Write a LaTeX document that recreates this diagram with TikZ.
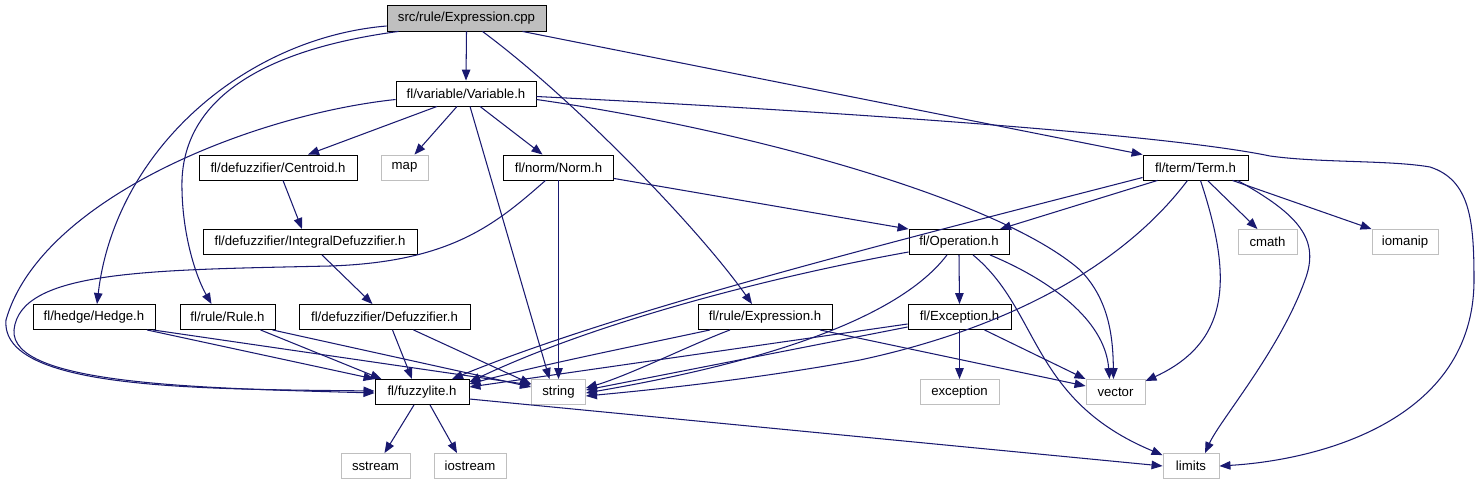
\documentclass[tikz,border=0pt]{standalone}
\usepackage{fontspec}
\setmainfont{Liberation Sans}
\usetikzlibrary{arrows.meta}
\definecolor{navy}{RGB}{25,25,112}
\definecolor{greyb}{RGB}{191,191,191}
\newcommand\dxfont{\fontsize{13.2}{15}\selectfont}
\begin{document}
\begin{tikzpicture}[x=1pt,y=-1pt,
  box/.style={draw=black, line width=0.9pt, minimum height=25pt, inner sep=0pt, font=\dxfont, fill=white},
  ext/.style={box, draw=greyb},
  mainbox/.style={box, fill=greyb, minimum height=26pt},
  conn/.style={draw=navy, line width=1.05pt, -{Triangle[length=11pt,width=8.5pt]}}]
\useasboundingbox (0,0) rectangle (1481,485);
\fill[white] (0,0) rectangle (1481,485);
% nodes
\node[mainbox, minimum width=159pt] (cpp) at (466.5,18) {src/rule/Expression.cpp};
\node[box, minimum width=140pt] (var) at (466,93.5) {fl/variable/Variable.h};
\node[box, minimum width=158pt] (cent) at (278,167.5) {fl/defuzzifier/Centroid.h};
\node[ext, minimum width=47pt] (map) at (404.5,167.5) {map};
\node[box, minimum width=110pt] (norm) at (558.5,167.5) {fl/norm/Norm.h};
\node[box, minimum width=105pt] (term) at (1195.5,167.5) {fl/term/Term.h};
\node[box, minimum width=214pt] (integ) at (310,242) {fl/defuzzifier/IntegralDefuzzifier.h};
\node[box, minimum width=100pt] (op) at (959,242) {fl/Operation.h};
\node[ext, minimum width=59pt] (cmath) at (1267.5,242) {cmath};
\node[ext, minimum width=66pt] (iomanip) at (1405,242) {iomanip};
\node[box, minimum width=122pt] (hedge) at (94,317) {fl/hedge/Hedge.h};
\node[box, minimum width=95pt] (rule) at (227.5,317) {fl/rule/Rule.h};
\node[box, minimum width=171pt] (defz) at (384.5,317) {fl/defuzzifier/Defuzzifier.h};
\node[box, minimum width=134pt] (expr) at (765,317) {fl/rule/Expression.h};
\node[box, minimum width=103pt] (exch) at (959.5,317) {fl/Exception.h};
\node[box, minimum width=94pt] (fuzzy) at (422,392) {fl/fuzzylite.h};
\node[ext, minimum width=54pt] (string) at (558.5,392) {string};
\node[ext, minimum width=79pt] (exception) at (959.5,392) {exception};
\node[ext, minimum width=59pt] (vector) at (1115.5,392) {vector};
\node[ext, minimum width=69pt] (sstream) at (375.5,466) {sstream};
\node[ext, minimum width=72pt] (iostream) at (470,466) {iostream};
\node[ext, minimum width=56pt] (limits) at (1191,466) {limits};
% Expression.cpp
\draw[conn] (cpp.south) -- (var.north);
\draw[conn] ([yshift=-8pt]cpp.west) .. controls (245,38) and (115,150) .. ([xshift=3pt]hedge.north);
\draw[conn] ([xshift=-68pt]cpp.south) .. controls (260,50) and (185,100) .. (182,180) .. controls (181,230) and (195,275) .. ([xshift=-16pt]rule.north);
\draw[conn] ([xshift=16pt]cpp.south) .. controls (575,100) and (700,230) .. ([xshift=-13pt]expr.north);
\draw[conn] ([xshift=56pt]cpp.south) -- (term.north west);
% Variable.h
\draw[conn] ([yshift=-6pt]var.west) .. controls (250,115) and (40,200) .. (6,320) .. controls (0,390) and (200,389) .. ([yshift=1pt]fuzzy.west);
\draw[conn] ([xshift=-29pt]var.south) -- ([xshift=30pt]cent.north);
\draw[conn] ([xshift=-9pt]var.south) -- ([xshift=10pt]map.north);
\draw[conn] ([xshift=4pt]var.south) -- ([xshift=-9pt]string.north);
\draw[conn] ([xshift=14pt]var.south) -- ([xshift=-16pt]norm.north);
\draw[conn] ([yshift=-6pt]var.east) .. controls (750,130) and (1000,200) .. (1080,270) .. controls (1110,300) and (1113,340) .. ([xshift=-2pt]vector.north);
\draw[conn] ([yshift=-3pt]var.east) .. controls (850,112) and (1170,135) .. (1270,156) .. controls (1320,163) and (1390,160) .. (1430,167) .. controls (1470,180) and (1474,220) .. (1474,280) .. controls (1474,420) and (1320,460) .. (limits.east);
% defuzzifier chain
\draw[conn] ([xshift=5pt]cent.south) -- ([xshift=-8pt]integ.north);
\draw[conn] ([xshift=12pt]integ.south) -- ([xshift=-12pt]defz.north);
% Norm.h
\draw[conn] (norm.south) -- (string.north);
\draw[conn] ([yshift=2pt]norm.south east) -- (op.north west);
\draw[conn] ([xshift=-13pt]norm.south) .. controls (495,225) and (450,262) .. (330,266) .. controls (150,270) and (20,270) .. (14,330) .. controls (10,385) and (200,388) .. ([yshift=-1pt]fuzzy.west);
% Term.h
\draw[conn] ([xshift=-38pt]term.south) -- ([xshift=41pt]op.north);
\draw[conn] ([yshift=-10pt]term.west) .. controls (900,240) and (620,310) .. ([xshift=30pt]fuzzy.north);
\draw[conn] ([xshift=-8pt]term.south) .. controls (1120,270) and (1000,330) .. (860,360) .. controls (750,380) and (650,390) .. ([yshift=-4pt]string.east);
\draw[conn] ([xshift=5pt]term.south) .. controls (1230,270) and (1235,340) .. ([yshift=-2pt]vector.north east);
\draw[conn] ([xshift=12pt]term.south) -- ([xshift=-10pt]cmath.north);
\draw[conn] ([xshift=37pt]term.south) -- (iomanip.north west);
\draw[conn] ([xshift=42pt]term.south) .. controls (1300,215) and (1320,240) .. (1305,280) .. controls (1280,350) and (1220,420) .. ([xshift=14pt]limits.north);
% Operation.h
\draw[conn] (op.south) -- (exch.north);
\draw[conn] ([yshift=-10pt]op.west) .. controls (780,275) and (600,320) .. ([yshift=-3pt]fuzzy.north east);
\draw[conn] ([xshift=-12pt]op.south) .. controls (890,330) and (720,370) .. ([yshift=-1pt]string.east);
\draw[conn] ([xshift=31pt]op.south) .. controls (1050,280) and (1105,320) .. ([xshift=-6pt]vector.north);
\draw[conn] ([xshift=14pt]op.south) .. controls (1040,310) and (1030,400) .. ([yshift=-2pt]limits.north west);
% Exception.h
\draw[conn] (exch.south) -- (exception.north);
\draw[conn] ([xshift=25pt]exch.south) -- (vector.north west);
\draw[conn] ([yshift=-10pt]exch.west) -- ([yshift=2pt]string.east);
\draw[conn] ([yshift=-7pt]exch.west) -- ([yshift=5pt]fuzzy.east);
% Expression.h
\draw[conn] ([xshift=-55pt]expr.south) .. controls (640,345) and (540,365) .. ([yshift=8pt]fuzzy.east);
\draw[conn] ([xshift=-35pt]expr.south) .. controls (690,345) and (630,375) .. ([yshift=4pt]string.east);
\draw[conn] ([xshift=55pt]expr.south) -- ([yshift=6pt]vector.west);
% Hedge.h, Rule.h, Defuzzifier.h
\draw[conn] ([xshift=53pt]hedge.south) -- (fuzzy.north west);
\draw[conn] ([xshift=59pt]hedge.south) -- ([yshift=7pt]string.west);
\draw[conn] ([xshift=33pt]rule.south) -- ([xshift=7pt]fuzzy.north west);
\draw[conn] ([xshift=45pt]rule.south) -- ([yshift=5pt]string.west);
\draw[conn] ([xshift=8pt]defz.south) -- ([xshift=-10pt]fuzzy.north);
\draw[conn] ([xshift=29pt]defz.south) -- ([yshift=8pt]string.west);
% fuzzylite.h
\draw[conn] ([xshift=-8pt]fuzzy.south) -- ([xshift=9pt]sstream.north);
\draw[conn] ([xshift=8pt]fuzzy.south) -- ([xshift=-13pt]iostream.north);
\draw[conn] ([yshift=-7pt]fuzzy.east) -- (limits.west);
\end{tikzpicture}
\end{document}
